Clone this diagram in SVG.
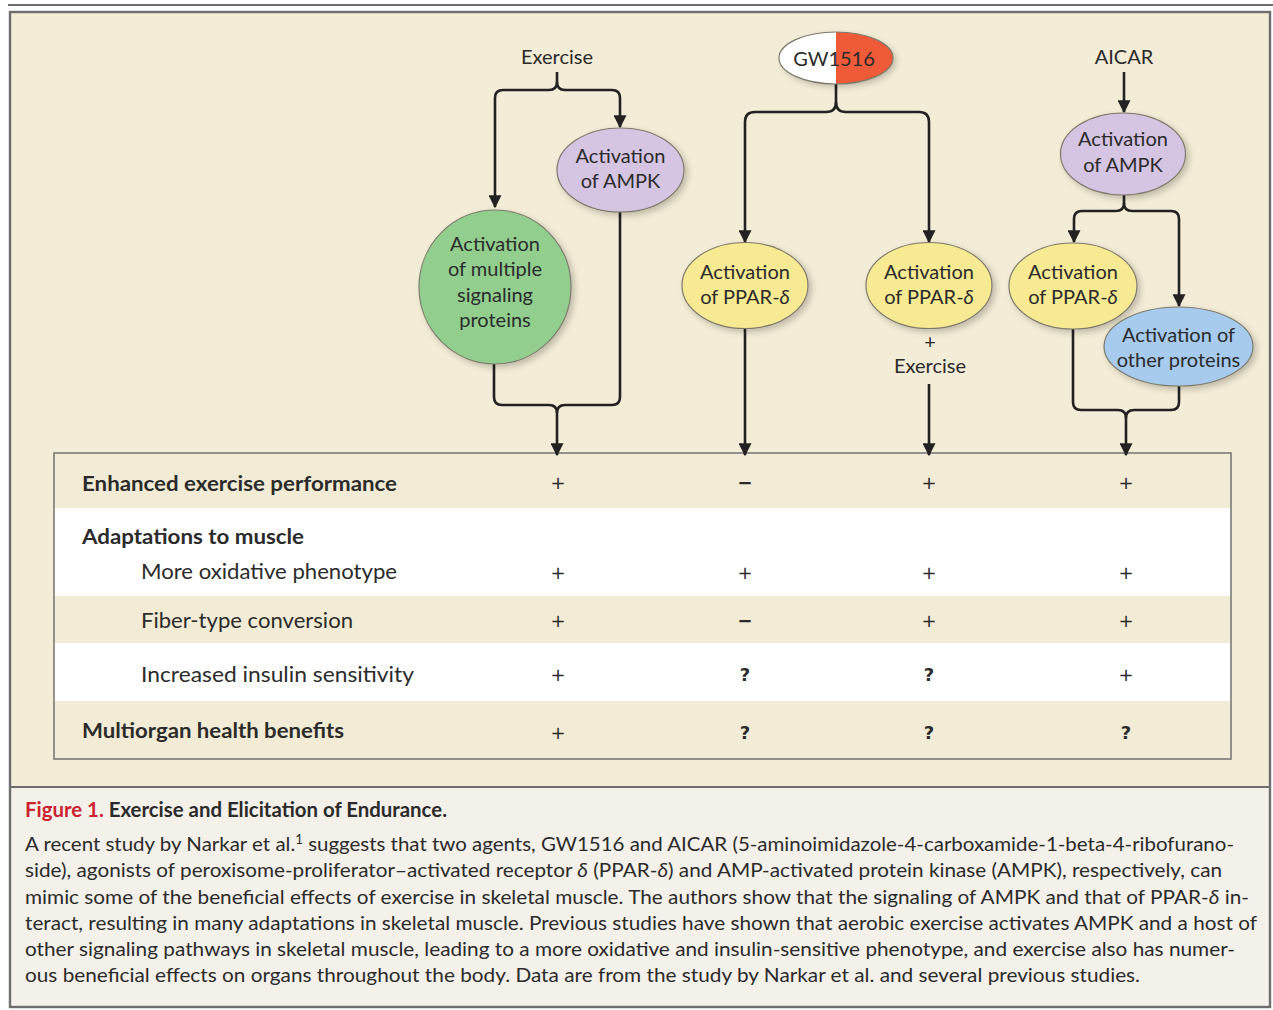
<svg xmlns="http://www.w3.org/2000/svg" width="1273" height="1010" viewBox="0 0 1273 1010">
  <defs>
    <style>
      .lbl { font-family: "Lato", "Open Sans", sans-serif; font-size: 20px; fill: #2b2b2b; text-anchor: middle; }
      .row { font-family: "Lato", "Open Sans", sans-serif; font-size: 21px; fill: #2b2b2b; }
      .rowb { font-family: "Lato", "Open Sans", sans-serif; font-size: 21px; font-weight: bold; fill: #2b2b2b; }
      .sym { font-family: "DejaVu Sans", sans-serif; font-size: 18px; fill: #2b2b2b; text-anchor: middle; }
      .symb { font-family: "DejaVu Sans", sans-serif; font-size: 18px; font-weight: bold; fill: #2b2b2b; text-anchor: middle; }
      .cap { font-family: "Lato", "Open Sans", sans-serif; font-size: 20px; fill: #2b2b2b; }
      .capt { font-family: "Lato", "Open Sans", sans-serif; font-size: 20px; font-weight: bold; fill: #2b2b2b; }
      .conn { fill: none; stroke: #222; stroke-width: 2.6; }
      .node { stroke: #7d7a6c; stroke-width: 1.2; filter: url(#sh); }
    </style>
    <filter id="sh" x="-20%" y="-20%" width="150%" height="150%">
      <feDropShadow dx="3" dy="3" stdDeviation="3" flood-color="#000" flood-opacity="0.22"/>
    </filter>
    <marker id="arr" viewBox="0 0 10 10" refX="9" refY="5" markerWidth="5.2" markerHeight="5" orient="auto" markerUnits="strokeWidth">
      <path d="M0,0 L10,5 L0,10 z" fill="#222"/>
    </marker>
  </defs>

  <!-- frame -->
  <line x1="8" y1="5" x2="1273" y2="5" stroke="#6e6e6e" stroke-width="2"/>
  <rect x="10" y="12" width="1260" height="775" fill="#f3ecd6"/>
  <rect x="10" y="787" width="1260" height="220" fill="#f4f1ea"/>
  <rect x="10" y="12" width="1260" height="995" fill="none" stroke="#6e6e6e" stroke-width="2.4"/>
  <line x1="10" y1="787" x2="1270" y2="787" stroke="#6e6e6e" stroke-width="2"/>

  <!-- table -->
  <g id="table">
    <rect x="54" y="453" width="1177" height="306" fill="#f2ebd5"/>
    <rect x="54" y="508" width="1177" height="88" fill="#ffffff"/>
    <rect x="54" y="643" width="1177" height="58" fill="#ffffff"/>
    <rect x="54" y="453" width="1177" height="306" fill="none" stroke="#7a7a7a" stroke-width="1.6"/>
    <text class="rowb" x="82" y="491" textLength="315" lengthAdjust="spacingAndGlyphs">Enhanced exercise performance</text>
    <text class="rowb" x="82" y="544" textLength="222" lengthAdjust="spacingAndGlyphs">Adaptations to muscle</text>
    <text class="row" x="141" y="579" textLength="256" lengthAdjust="spacingAndGlyphs">More oxidative phenotype</text>
    <text class="row" x="141" y="628" textLength="212" lengthAdjust="spacingAndGlyphs">Fiber-type conversion</text>
    <text class="row" x="141" y="682" textLength="273" lengthAdjust="spacingAndGlyphs">Increased insulin sensitivity</text>
    <text class="rowb" x="82" y="738" textLength="262" lengthAdjust="spacingAndGlyphs">Multiorgan health benefits</text>

    <text class="sym" x="558" y="489">+</text>
    <text class="symb" x="745" y="489">−</text>
    <text class="sym" x="929" y="489">+</text>
    <text class="sym" x="1126" y="489">+</text>

    <text class="sym" x="558" y="579">+</text>
    <text class="sym" x="745" y="579">+</text>
    <text class="sym" x="929" y="579">+</text>
    <text class="sym" x="1126" y="579">+</text>

    <text class="sym" x="558" y="627">+</text>
    <text class="symb" x="745" y="627">−</text>
    <text class="sym" x="929" y="627">+</text>
    <text class="sym" x="1126" y="627">+</text>

    <text class="sym" x="558" y="681">+</text>
    <text class="symb" x="745" y="681">?</text>
    <text class="symb" x="929" y="681">?</text>
    <text class="sym" x="1126" y="681">+</text>

    <text class="sym" x="558" y="739">+</text>
    <text class="symb" x="745" y="739">?</text>
    <text class="symb" x="929" y="739">?</text>
    <text class="symb" x="1126" y="739">?</text>
  </g>

  <!-- connectors -->
  <g id="connectors">
    <path class="conn" d="M557 72 V82 Q557 90 549 90 H503 Q495 90 495 98 V207" marker-end="url(#arr)"/>
    <path class="conn" d="M557 82 Q557 90 565 90 H612 Q620 90 620 98 V127" marker-end="url(#arr)"/>
    <path class="conn" d="M494 364 V397 Q494 405 502 405 H549 Q557 405 557 413 V455" marker-end="url(#arr)"/>
    <path class="conn" d="M620 211 V397 Q620 405 612 405 H565 Q557 405 557 413"/>

    <path class="conn" d="M836 84 V102 Q836 112 826 112 H755 Q745 112 745 122 V242" marker-end="url(#arr)"/>
    <path class="conn" d="M836 102 Q836 112 846 112 H919 Q929 112 929 122 V242" marker-end="url(#arr)"/>
    <path class="conn" d="M745 328 V455" marker-end="url(#arr)"/>
    <path class="conn" d="M929 384 V455" marker-end="url(#arr)"/>

    <path class="conn" d="M1124 72 V112" marker-end="url(#arr)"/>
    <path class="conn" d="M1124 195 V203 Q1124 211 1116 211 H1082 Q1074 211 1074 219 V242" marker-end="url(#arr)"/>
    <path class="conn" d="M1124 203 Q1124 211 1132 211 H1171 Q1179 211 1179 219 V306" marker-end="url(#arr)"/>
    <path class="conn" d="M1073 329 V402 Q1073 410 1081 410 H1118 Q1126 410 1126 418 V455" marker-end="url(#arr)"/>
    <path class="conn" d="M1179 386 V402 Q1179 410 1171 410 H1134 Q1126 410 1126 418"/>
  </g>

  <!-- nodes -->
  <g id="exercise-top">
    <text class="lbl" x="557" y="64">Exercise</text>
  </g>
  <g id="ampk1">
    <ellipse class="node" cx="620.5" cy="170" rx="63.5" ry="42" fill="#d5c4e2"/>
    <text class="lbl" x="620.5" y="163">Activation</text>
    <text class="lbl" x="620.5" y="188">of AMPK</text>
  </g>
  <g id="multi-signaling">
    <ellipse class="node" cx="495" cy="287" rx="76" ry="77" fill="#92cf8f"/>
    <text class="lbl" x="495" y="251">Activation</text>
    <text class="lbl" x="495" y="276">of multiple</text>
    <text class="lbl" x="495" y="302">signaling</text>
    <text class="lbl" x="495" y="327">proteins</text>
  </g>
  <g id="gw1516">
    <clipPath id="gwl"><rect x="770" y="25" width="66" height="70"/></clipPath>
    <clipPath id="gwr"><rect x="836" y="25" width="66" height="70"/></clipPath>
    <g filter="url(#sh)">
      <ellipse cx="836" cy="58" rx="57" ry="26" fill="#ffffff" clip-path="url(#gwl)"/>
      <ellipse cx="836" cy="58" rx="57" ry="26" fill="#ef5a39" clip-path="url(#gwr)"/>
    </g>
    <ellipse cx="836" cy="58" rx="57" ry="26" fill="none" stroke="#7d7a6c" stroke-width="1.2"/>
    <text class="lbl" x="834" y="66">GW1516</text>
  </g>
  <g id="ppar1">
    <ellipse class="node" cx="745" cy="285.5" rx="63" ry="43" fill="#f8ea92"/>
    <text class="lbl" x="745" y="279">Activation</text>
    <text class="lbl" x="745" y="304">of PPAR-<tspan font-style="italic">δ</tspan></text>
  </g>
  <g id="ppar2">
    <ellipse class="node" cx="929" cy="285.5" rx="63" ry="43" fill="#f8ea92"/>
    <text class="lbl" x="929" y="279">Activation</text>
    <text class="lbl" x="929" y="304">of PPAR-<tspan font-style="italic">δ</tspan></text>
    <text class="lbl" x="930" y="349">+</text>
    <text class="lbl" x="930" y="373">Exercise</text>
  </g>
  <g id="aicar">
    <text class="lbl" x="1124" y="64">AICAR</text>
  </g>
  <g id="ampk2">
    <ellipse class="node" cx="1123" cy="154" rx="62.5" ry="41" fill="#d5c4e2"/>
    <text class="lbl" x="1123" y="146">Activation</text>
    <text class="lbl" x="1123" y="172">of AMPK</text>
  </g>
  <g id="ppar3">
    <ellipse class="node" cx="1073" cy="286" rx="64" ry="43" fill="#f8ea92"/>
    <text class="lbl" x="1073" y="279">Activation</text>
    <text class="lbl" x="1073" y="304">of PPAR-<tspan font-style="italic">δ</tspan></text>
  </g>
  <g id="other-proteins">
    <ellipse class="node" cx="1178.5" cy="346.5" rx="74.5" ry="39.5" fill="#a7cbee"/>
    <text class="lbl" x="1178.5" y="342">Activation of</text>
    <text class="lbl" x="1178.5" y="367">other proteins</text>
  </g>

  <!-- caption -->
  <g id="caption">
    <text class="capt" x="25" y="817" textLength="422" lengthAdjust="spacingAndGlyphs"><tspan fill="#cc2230">Figure 1.</tspan> Exercise and Elicitation of Endurance.</text>
    <text class="cap" x="25" y="851" textLength="1209" lengthAdjust="spacingAndGlyphs">A recent study by Narkar et al.<tspan font-size="13" dy="-7">1</tspan><tspan dy="7"> suggests that two agents, GW1516 and AICAR (5-aminoimidazole-4-carboxamide-1-beta-4-ribofurano-</tspan></text>
    <text class="cap" x="25" y="877" textLength="1197" lengthAdjust="spacingAndGlyphs">side), agonists of peroxisome-proliferator–activated receptor <tspan font-style="italic">δ</tspan> (PPAR-<tspan font-style="italic">δ</tspan>) and AMP-activated protein kinase (AMPK), respectively, can</text>
    <text class="cap" x="25" y="904" textLength="1224" lengthAdjust="spacingAndGlyphs">mimic some of the beneficial effects of exercise in skeletal muscle. The authors show that the signaling of AMPK and that of PPAR-<tspan font-style="italic">δ</tspan> in-</text>
    <text class="cap" x="25" y="930" textLength="1232" lengthAdjust="spacingAndGlyphs">teract, resulting in many adaptations in skeletal muscle. Previous studies have shown that aerobic exercise activates AMPK and a host of</text>
    <text class="cap" x="25" y="956" textLength="1210" lengthAdjust="spacingAndGlyphs">other signaling pathways in skeletal muscle, leading to a more oxidative and insulin-sensitive phenotype, and exercise also has numer-</text>
    <text class="cap" x="25" y="982" textLength="1115" lengthAdjust="spacingAndGlyphs">ous beneficial effects on organs throughout the body. Data are from the study by Narkar et al. and several previous studies.</text>
  </g>
</svg>
